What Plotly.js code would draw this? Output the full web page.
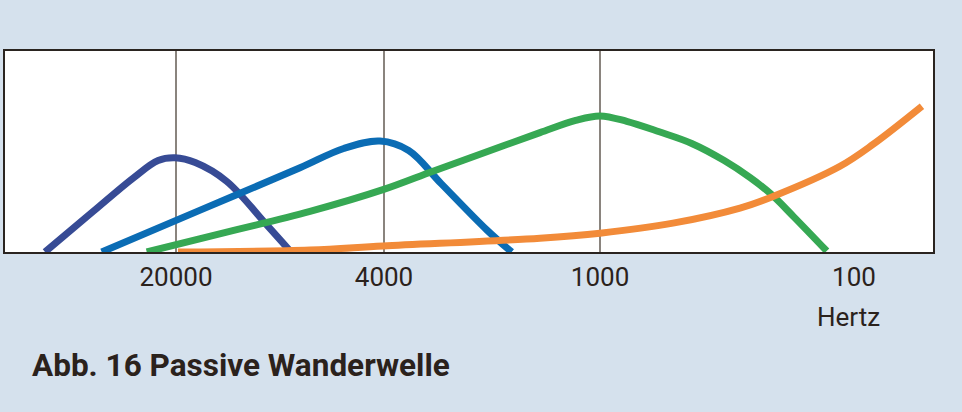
<!DOCTYPE html>
<html>
<head>
<meta charset="utf-8">
<script src="https://cdn.plot.ly/plotly-3.0.1.min.js"></script>
<style>
html,body{margin:0;padding:0;background:#d5e1ed;}
#chart{width:962px;height:412px;}
</style>
</head>
<body>
<div id="chart"></div>
<script>
// Position along the basilar membrane (0 = base, 100 = apex), relative amplitude 0..100
const tickPositions = [18.43, 40.84, 64.12, 91.49];
const tickLabels = ["20000", "4000", "1000", "100"];
const gridPositions = [18.43, 40.84, 64.12];

const wave20000X = [4.31, 9.5, 13.83, 16.5, 18.32, 20.5, 23.89, 28.2, 30.82];
const wave20000Y = [0, 20.2, 36.85, 45.5, 46.85, 44.5, 35.15, 13.5, 0];

const wave4000X = [10.42, 21.1, 31.79, 36.5, 40.41, 43.5, 47.0, 51.91, 54.6];
const wave4000Y = [0, 20.95, 41.9, 51.5, 55.2, 50.5, 34.0, 11, 0];

const wave1000X = [15.27, 24.0, 32.87, 40.73, 46.12, 52.0, 57.65, 61.5, 64.12, 67.0, 70.5, 74.0, 77.5, 80.3, 82.5, 85.0, 88.55];
const wave1000Y = [0, 10.0, 20.2, 31, 40.2, 50.0, 59.4, 65.5, 67.7, 65.0, 59.8, 54.0, 45.5, 37.0, 29.0, 17.5, 0.5];

const wave100X = [18.64, 32.87, 40.73, 57.65, 64.12, 71.98, 79.20, 82.76, 89.98, 93.53, 98.81];
const wave100Y = [0, 1, 3, 6.85, 9.35, 14.35, 21.85, 27.65, 42.65, 53.5, 72.5];

const colors = ["#374b95", "#0b6cb4", "#36a853", "#f28b39"];

const series = [
  [wave20000X, wave20000Y],
  [wave4000X, wave4000Y],
  [wave1000X, wave1000Y],
  [wave100X, wave100Y]
];

const data = series.map((s, i) => ({
  x: s[0], y: s[1], type: "scatter", mode: "lines",
  line: {color: colors[i], width: 7, shape: "spline", smoothing: 1},
  hoverinfo: "skip", showlegend: false, cliponaxis: false
}));

const textColor = "#2b221c";

const layout = {
  width: 962, height: 412,
  paper_bgcolor: "#d5e1ed",
  plot_bgcolor: "#ffffff",
  margin: {l: 5, r: 29, t: 51, b: 160},
  font: {family: "Roboto, sans-serif", color: textColor},
  title: {
    text: "<b>Abb. 16 Passive Wanderwelle</b>",
    font: {size: 31.5, color: textColor, family: "Roboto, sans-serif"},
    xref: "container", yref: "container",
    x: 32/962, xanchor: "left",
    y: 1 - 365/412, yanchor: "middle"
  },
  xaxis: {
    range: [0, 100], fixedrange: true,
    tickmode: "array", tickvals: tickPositions, ticktext: tickLabels,
    showgrid: false, zeroline: false,
    showline: true, mirror: true, linecolor: "#2a2420", linewidth: 2,
    ticks: "", tickfont: {size: 26, color: textColor},
    ticklabelstandoff: 1
  },
  xaxis2: {
    range: [0, 100], overlaying: "x", fixedrange: true,
    tickmode: "array", tickvals: gridPositions,
    showgrid: true, gridcolor: "#8a847e", gridwidth: 1.5,
    showticklabels: false, zeroline: false, showline: false, ticks: "",
    layer: "below traces"
  },
  yaxis: {
    range: [0, 100], fixedrange: true,
    showgrid: false, zeroline: false, showticklabels: false, ticks: "",
    showline: true, mirror: true, linecolor: "#2a2420", linewidth: 2
  },
  annotations: [{
    text: "Hertz", xref: "x", yref: "paper",
    x: 90.84, y: -65/200.3, xanchor: "center", yanchor: "middle",
    showarrow: false, font: {size: 26, color: textColor}
  }]
};

// invisible trace that activates the grid-only overlay axis
data.unshift({x: [0], y: [0], xaxis: "x2", type: "scatter", mode: "markers",
  marker: {opacity: 0}, hoverinfo: "skip", showlegend: false});

Plotly.newPlot("chart", data, layout, {displayModeBar: false, staticPlot: true});
</script>
</body>
</html>
